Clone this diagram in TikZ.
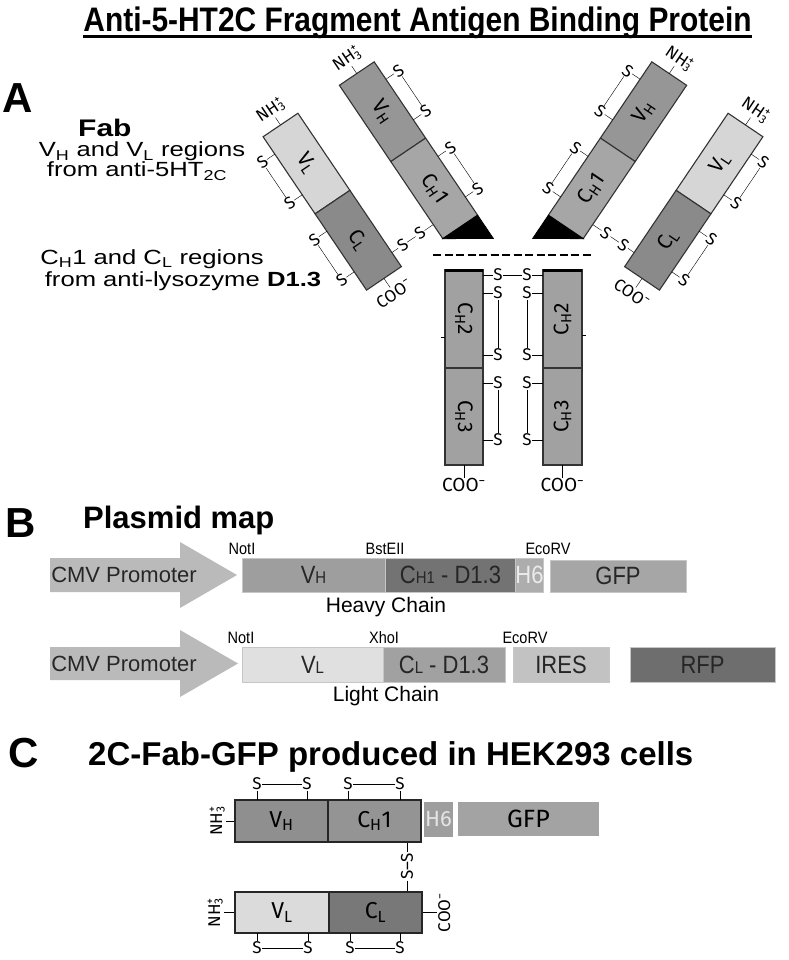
\documentclass[tikz,border=0pt]{standalone}
\usepackage{fontspec}
\setmainfont{Liberation Sans}
\newfontfamily\widefont[FakeStretch=1.25]{Liberation Sans}
\newfontfamily\narrowfont[FakeStretch=0.88]{Liberation Sans}
\newfontfamily\protfont{Fira Sans}
\usetikzlibrary{positioning}

\definecolor{fabVL}{gray}{0.84}
\definecolor{fabCL}{gray}{0.54}
\definecolor{fabVH}{gray}{0.59}
\definecolor{fabCH}{gray}{0.65}
\definecolor{fabFc}{gray}{0.63}
\definecolor{cmvgray}{gray}{0.73}
\definecolor{pVH}{gray}{0.62}
\definecolor{pCH}{gray}{0.45}
\definecolor{pHsix}{gray}{0.68}
\definecolor{pGFP}{gray}{0.65}
\definecolor{pVL}{gray}{0.88}
\definecolor{pCL}{gray}{0.63}
\definecolor{pIRES}{gray}{0.76}
\definecolor{pRFP}{gray}{0.43}
\definecolor{cVH}{gray}{0.56}
\definecolor{cCH}{gray}{0.58}
\definecolor{cVL}{gray}{0.86}
\definecolor{cCL}{gray}{0.47}
\definecolor{cHsix}{gray}{0.62}
\definecolor{cGFP}{gray}{0.64}

\newcommand\fsz[1]{\fontsize{#1}{#1}\selectfont}
\newcommand\sm[1]{{\fontsize{17}{17}\selectfont #1}}
\newcommand\nhthree{NH\rlap{\textsuperscript{+}}\textsubscript{3}}
% two S with a bond between them, each tied to its chain
\newcommand\sspair[4]{%
  \node[sslbl] (sa) at (#1) {S};
  \node[sslbl] (sb) at (#2) {S};
  \draw (sa) -- (sb) (sa) -- (#3) (sb) -- (#4);}

\begin{document}
\begin{tikzpicture}[x=1pt,y=-1pt,
    dom/.style={draw=black!80,line width=1.1pt},
    sslbl/.style={font=\protfont\fsz{17},inner sep=0.6pt},
    endlbl/.style={font=\protfont\fsz{17},inner sep=1pt},
    wtxt/.style={font=\widefont\fsz{20.5},inner sep=0,anchor=base},
    pbox/.style={inner sep=0,draw=gray!45,line width=0.6pt,font=\narrowfont\fsz{25},text=black!85},
    site/.style={font=\narrowfont\fsz{16.5},anchor=base},
    cbox/.style={draw=black!85,line width=1.4pt,inner sep=0,font=\protfont\fsz{23}}]

\useasboundingbox (0,0) rectangle (788,960);

\node[font=\narrowfont\bfseries\fsz{34},anchor=base,inner sep=0] (title) at (417.5,32) {Anti-5-HT2C Fragment Antigen Binding Protein};
\draw[line width=2.5pt] ([yshift=-4.5pt]title.base west) -- ([yshift=-4.5pt]title.base east);

\node[font=\bfseries\fsz{42},anchor=base west,inner sep=0] (lblA) at (2,113) {A};
\node[font=\bfseries\fsz{42},anchor=base west,inner sep=0] (lblB) at (5,537) {B};
\node[font=\bfseries\fsz{42},anchor=base west,inner sep=0] (lblC) at (8,767) {C};

% panel A
\node[font=\widefont\bfseries\fsz{24},anchor=base west,inner sep=0] (fab) at (78,137) {Fab};
\node[wtxt] (vhvl) at (142,157) {V\textsubscript{H} and V\textsubscript{L} regions};
\node[wtxt] (fromA) at (137,177) {from anti-5HT\textsubscript{2C}};
\node[wtxt] (chcl) at (152,264) {C\textsubscript{H}1 and C\textsubscript{L} regions};
\node[wtxt] (fromB) at (183,286) {from anti-lysozyme \textbf{D1.3}};

\foreach \side/\cx in {1/280.5,-1/745.5}{
  \begin{scope}[shift={(\cx,125)},rotate=34*\side,transform shape,font=\protfont\fsz{21}]
    % light chain
    \draw[dom,fill=fabVL] (-21,0) rectangle (21,93);
    \draw[dom,fill=fabCL] (-21,93) rectangle (21,185);
    \node[rotate=-90*\side] at (0,46) {V\textsubscript{L}};
    \node[rotate=-90*\side] at (0,139) {C\textsubscript{L}};
    \node[endlbl,anchor=south] (nl) at (0,-9) {\nhthree};
    \draw (0,0) -- (nl.south);
    \node[endlbl,anchor=north] (cl) at (0,196) {COO\textsuperscript{−}};
    \draw (0,185) -- (cl.north);
    \sspair{-36*\side,21}{-36*\side,70}{-21*\side,21}{-21*\side,70}
    \sspair{-36*\side,114}{-36*\side,163}{-21*\side,114}{-21*\side,163}
    \sspair{34*\side,168}{55*\side,168}{21*\side,168}{71*\side,168}
    % heavy chain
    \begin{scope}[shift={(92*\side,0)}]
      \draw[dom,fill=fabVH] (-21,0) rectangle (21,92);
      \draw[dom,fill=fabCH] (-21,92) rectangle (21,185);
      \filldraw[line width=0.8pt] (-21*\side,185) -- (21*\side,185) -- (21*\side,213) -- cycle;
      \node[rotate=-90*\side] at (0,46) {V\textsubscript{H}};
      \node[rotate=-90*\side] at (0,139) {C\textsubscript{H}1};
      \node[endlbl,anchor=south] (nh) at (0,-9) {\nhthree};
      \draw (0,0) -- (nh.south);
      \sspair{36*\side,21}{36*\side,70}{21*\side,21}{21*\side,70}
      \sspair{36*\side,114}{36*\side,163}{21*\side,114}{21*\side,163}
    \end{scope}
  \end{scope}
}

\draw[line width=2pt,dash pattern=on 8pt off 3.5pt] (433,255) -- (593,255);

\draw[dom,fill=fabFc] (445,270) rectangle (483,368);
\draw[dom,fill=fabFc] (445,368) rectangle (483,465);
\draw[dom,fill=fabFc] (543,270) rectangle (582,368);
\draw[dom,fill=fabFc] (543,368) rectangle (582,465);
\draw[line width=3pt] (445,270) -- (483,270) (543,270) -- (582,270);
\draw (445,337) -- (441,337) (582,335) -- (586,335);
\node[rotate=-90,font=\protfont\fsz{21}] (chtwoL) at (464,319) {C\textsubscript{H}2};
\node[rotate=-90,font=\protfont\fsz{21}] (chthreeL) at (464,416.5) {C\textsubscript{H}3};
\node[rotate=90,font=\protfont\fsz{21}] (chtwoR) at (562.5,319) {C\textsubscript{H}2};
\node[rotate=90,font=\protfont\fsz{21}] (chthreeR) at (562.5,416.5) {C\textsubscript{H}3};
\sspair{498,275}{527,275}{483,275}{543,275}
\sspair{498,293}{498,355}{483,293}{483,355}
\sspair{498,383}{498,440}{483,383}{483,440}
\sspair{527,293}{527,355}{543,293}{543,355}
\sspair{527,383}{527,440}{543,383}{543,440}
\node[font=\protfont\fsz{19},anchor=north,inner sep=0] (cooL) at (464,478) {COO\textsuperscript{−}};
\node[font=\protfont\fsz{19},anchor=north,inner sep=0] (cooR) at (562.5,478) {COO\textsuperscript{−}};
\draw (464,465) -- (cooL.north) (562.5,465) -- (cooR.north);

% panel B
\node[font=\bfseries\fsz{31},anchor=base west,inner sep=0] (plas) at (83,528) {Plasmid map};

\fill[cmvgray] (50,558) -- (180,558) -- (180,542) -- (237,575) -- (180,608) -- (180,592) -- (50,592) -- cycle;
\node[font=\fsz{22},text=black!85] (cmvA) at (124,575) {CMV Promoter};
\node[pbox,fill=pVH,minimum width=143,minimum height=34] (pvh) at (313.5,575) {V\sm{H}};
\node[pbox,fill=pCH,minimum width=131,minimum height=34] (pch) at (450.5,575) {C\sm{H1} - D1.3};
\node[pbox,fill=pHsix,minimum width=27,minimum height=34,text=white!92!black] (phsix) at (529.5,575) {H6};
\node[pbox,fill=pGFP,minimum width=136,minimum height=32] (pgfp) at (618,576) {GFP};
\node[site] (notA) at (242,554) {NotI};
\node[site] (bst) at (385,554) {BstEII};
\node[site] (ecoA) at (548,554) {EcoRV};
\node[font=\fsz{21},anchor=base] (heavy) at (386,612) {Heavy Chain};

\fill[cmvgray] (50,647) -- (180,647) -- (180,630) -- (238,663.5) -- (180,697) -- (180,680) -- (50,680) -- cycle;
\node[font=\fsz{22},text=black!85] (cmvB) at (124,664) {CMV Promoter};
\node[pbox,fill=pVL,minimum width=141,minimum height=35] (pvl) at (312.5,664.5) {V\sm{L}};
\node[pbox,fill=pCL,minimum width=122,minimum height=35] (pcl) at (444,664.5) {C\sm{L} - D1.3};
\node[pbox,fill=pIRES,minimum width=96,minimum height=35] (pires) at (561,664.5) {IRES};
\node[pbox,fill=pRFP,minimum width=145,minimum height=35] (prfp) at (702.5,664.5) {RFP};
\node[site] (notB) at (241,643) {NotI};
\node[site] (xho) at (384,643) {XhoI};
\node[site] (ecoB) at (525,643) {EcoRV};
\node[font=\fsz{21},anchor=base] (light) at (386,701) {Light Chain};

% panel C
\node[font=\bfseries\fsz{33},anchor=base west,inner sep=0] (prod) at (88,765) {2C-Fab-GFP produced in HEK293 cells};

\node[cbox,fill=cVH,minimum width=93,minimum height=42] (cvh) at (281.5,821) {V\textsubscript{H}};
\node[cbox,fill=cCH,minimum width=93,minimum height=42] (cch) at (374.5,821) {C\textsubscript{H}1};
\node[inner sep=0,fill=cHsix,minimum width=29,minimum height=35,font=\protfont\fsz{22},text=white!90!black] (chsix) at (438.5,819.5) {H6};
\node[inner sep=0,fill=cGFP,minimum width=141,minimum height=34,font=\protfont\fsz{25}] (cgfp) at (528.5,819) {GFP};
\node[cbox,fill=cVL,minimum width=94,minimum height=41] (cvl) at (282,912.5) {V\textsubscript{L}};
\node[cbox,fill=cCL,minimum width=93,minimum height=41] (ccl) at (375.5,912.5) {C\textsubscript{L}};

\node[endlbl,rotate=90,anchor=south] (nhC) at (226,821) {\nhthree};
\draw (nhC.south) -- (cvh.west);
\node[endlbl,rotate=90,anchor=south] (nlC) at (224,912.5) {\nhthree};
\draw (nlC.south) -- (cvl.west);
\node[endlbl,rotate=90,anchor=north] (cooC) at (437,912.5) {COO\textsuperscript{−}};
\draw (ccl.east) -- (cooC.north);
\node[sslbl,rotate=90] (ssC) at (407,866.5) {S–S};
\draw (ssC.east) -- (ssC.east |- cch.south) (ssC.west) -- (ssC.west |- ccl.north);

\sspair{257,784}{307,784}{257,800}{307,800}
\sspair{348,784}{400,784}{348,800}{400,800}
\sspair{257,948}{308,948}{257,933}{308,933}
\sspair{350,948}{400,948}{350,933}{400,933}
\end{tikzpicture}
\end{document}
